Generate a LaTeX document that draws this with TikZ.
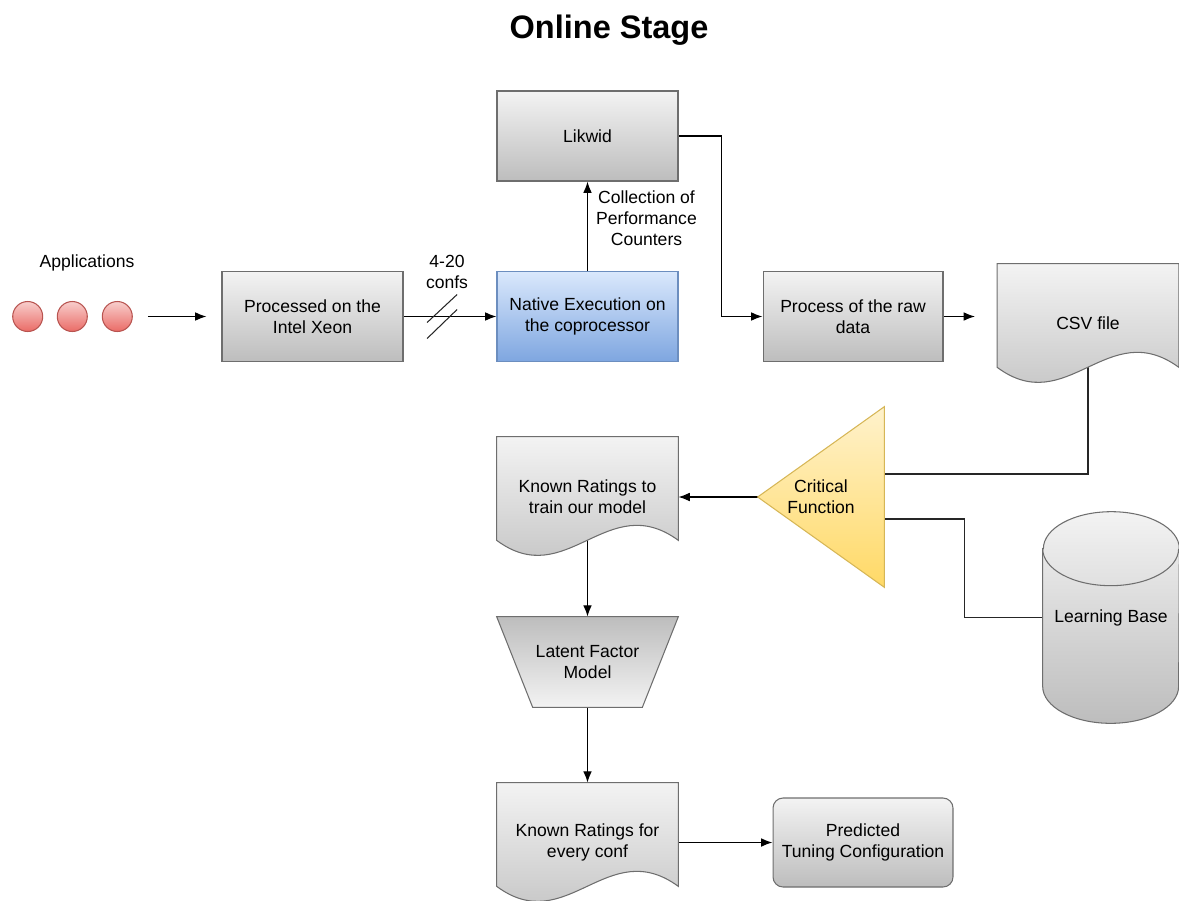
\documentclass[tikz,border=0pt]{standalone}
\usepackage{fontspec}
\setmainfont{Liberation Sans}
\usetikzlibrary{arrows.meta, calc}
\definecolor{BoxTop}{HTML}{F3F3F3}
\definecolor{BoxBot}{HTML}{BDBDBD}
\definecolor{BoxLine}{HTML}{6E6E6E}
\definecolor{BlueTop}{HTML}{DAE8FC}
\definecolor{BlueBot}{HTML}{7EA6E0}
\definecolor{BlueLine}{HTML}{6C8EBF}
\definecolor{GoldTop}{HTML}{FFF2CC}
\definecolor{GoldBot}{HTML}{FFD966}
\definecolor{GoldLine}{HTML}{D6B656}
\definecolor{RedTop}{HTML}{F8CECC}
\definecolor{RedBot}{HTML}{EA6B66}
\definecolor{RedLine}{HTML}{B85450}
\pgfdeclarelayer{links}
\pgfdeclarelayer{shapes}
\pgfsetlayers{links,shapes,main}
\newcommand{\docshape}[1]{%
  \shade[docfill] (#1.north west) -- (#1.north east) -- (#1.south east)
    .. controls +(-71,-52) and +(70,52) .. (#1.south west) -- cycle;}

\begin{document}
\begin{tikzpicture}[x=0.02cm, y=-0.02cm,
    every node/.style={font=\fontsize{10}{12}\selectfont, text=black, align=center},
    stepbox/.style={rectangle, draw=BoxLine, line width=0.6pt, top color=BoxTop,
                    bottom color=BoxBot, minimum width=3.62cm, minimum height=1.8cm},
    bluebox/.style={stepbox, draw=BlueLine, top color=BlueTop, bottom color=BlueBot},
    docbox/.style={rectangle, minimum width=3.62cm, minimum height=2.06cm},
    docfill/.style={draw=BoxLine, line width=0.6pt, top color=BoxTop, bottom color=BoxBot},
    appdot/.style={circle, draw=RedLine, line width=0.6pt, top color=RedTop,
                   bottom color=RedBot, minimum size=0.6cm, inner sep=0pt},
    link/.style={draw=black, line width=0.8pt, -{Latex[length=6.5pt,width=5pt]}},
    plain/.style={draw=black!85, line width=0.8pt}]
\useasboundingbox (0,0) rectangle (1179,900);

\node[font=\fontsize{18.5}{22}\selectfont\bfseries] (title) at (609,30) {Online Stage};

% applications
\node (applbl) at (87,263) {Applications};
\node[appdot] (app1) at (27.7,316.5) {};
\node[appdot] (app2) at (72.3,316.5) {};
\node[appdot] (app3) at (117.3,316.5) {};

% first row
\node[stepbox] (xeon) at (312.5,316.5) {Processed on the\\Intel Xeon};
\node[bluebox] (native) at (587.5,316.5) {Native Execution on\\the coprocessor};
\node[stepbox] (likwid) at (587.5,136) {Likwid};
\node[stepbox, minimum width=3.6cm] (raw) at (853,316.5) {Process of the raw\\data};
\node[docbox, label={[yshift=-0.16cm]center:CSV file}] (csv) at (1088,315.5) {};
\node (conflbl) at (447,272) {4-20\\confs};
\node (countlbl) at (646.5,218) {Collection of\\Performance\\Counters};
\coordinate (csvin) at (975,316.5);

% lower part
\node[rectangle, minimum width=2.52cm, minimum height=3.6cm] (crit) at (821,497) {Critical\\Function};
\node[docbox, label={[yshift=-0.17cm]center:Known Ratings to\\train our model}] (known1) at (587.5,488.5) {};
\node[rectangle, minimum width=3.62cm, minimum height=1.8cm] (lfm) at (587.5,662) {Latent Factor\\Model};
\node[docbox, label={[yshift=-0.16cm]center:Known Ratings for\\every conf}] (known2) at (587.5,834.5) {};
\node[stepbox, rounded corners=0.2cm, minimum width=3.6cm, minimum height=1.78cm] (pred) at (863,842.5) {Predicted\\Tuning Configuration};
\node[rectangle, minimum width=2.72cm, minimum height=4.22cm] (lbase) at (1111,617.5) {Learning Base};

\begin{pgfonlayer}{shapes}
  \docshape{csv}
  \docshape{known1}
  \docshape{known2}
  \shade[draw=GoldLine, line width=0.6pt, top color=GoldTop, bottom color=GoldBot]
    (crit.west) -- (crit.north east) -- (crit.south east) -- cycle;
  \shade[docfill, top color=BoxBot, bottom color=BoxTop] (lfm.north west) -- (lfm.north east)
    -- ($(lfm.south east)+(-36,0)$) -- ($(lfm.south west)+(36,0)$) -- cycle;
  \shade[docfill] ($(lbase.north west)+(0,37)$) -- ($(lbase.south west)+(0,-37)$)
    arc[start angle=180, end angle=360, x radius=1.36cm, y radius=0.74cm]
    -- ($(lbase.north east)+(0,37)$)
    arc[start angle=0, end angle=180, x radius=1.36cm, y radius=0.74cm] -- cycle;
  \draw[draw=BoxLine, line width=0.6pt] ($(lbase.north west)+(0,37)$)
    arc[start angle=180, end angle=360, x radius=1.36cm, y radius=0.74cm];
\end{pgfonlayer}

\begin{pgfonlayer}{links}
  \draw[link] ([xshift=0.3cm]app3.east) -- ([xshift=-0.3cm]xeon.west);
  \draw[link] (xeon.east) -- coordinate[pos=0.415] (cut) (native.west);
  \draw[plain, line width=0.6pt] ($(cut)+(-15,6)$) -- ($(cut)+(15,-22)$);
  \draw[plain, line width=0.6pt] ($(cut)+(-15,22)$) -- ($(cut)+(15,-7)$);
  \draw[link] (native.north) -- (likwid.south);
  \draw[link] (likwid.east) -- ++(43,0) |- (raw.west);
  \draw[link] (raw.east) -- (csvin);
  \draw[plain] (csv.south) |- ([yshift=0.46cm]crit.east);
  \draw[plain] ([yshift=-0.44cm]crit.east) -- ++(80,0) |- (lbase.west);
  \draw[link] (crit.west) -- (crit.west -| known1.east);
  \draw[link] (known1.south) -- (lfm.north);
  \draw[link] (lfm.south) -- (known2.north);
  \draw[link] (known2.east |- pred.west) -- (pred.west);
\end{pgfonlayer}
\end{tikzpicture}
\end{document}
